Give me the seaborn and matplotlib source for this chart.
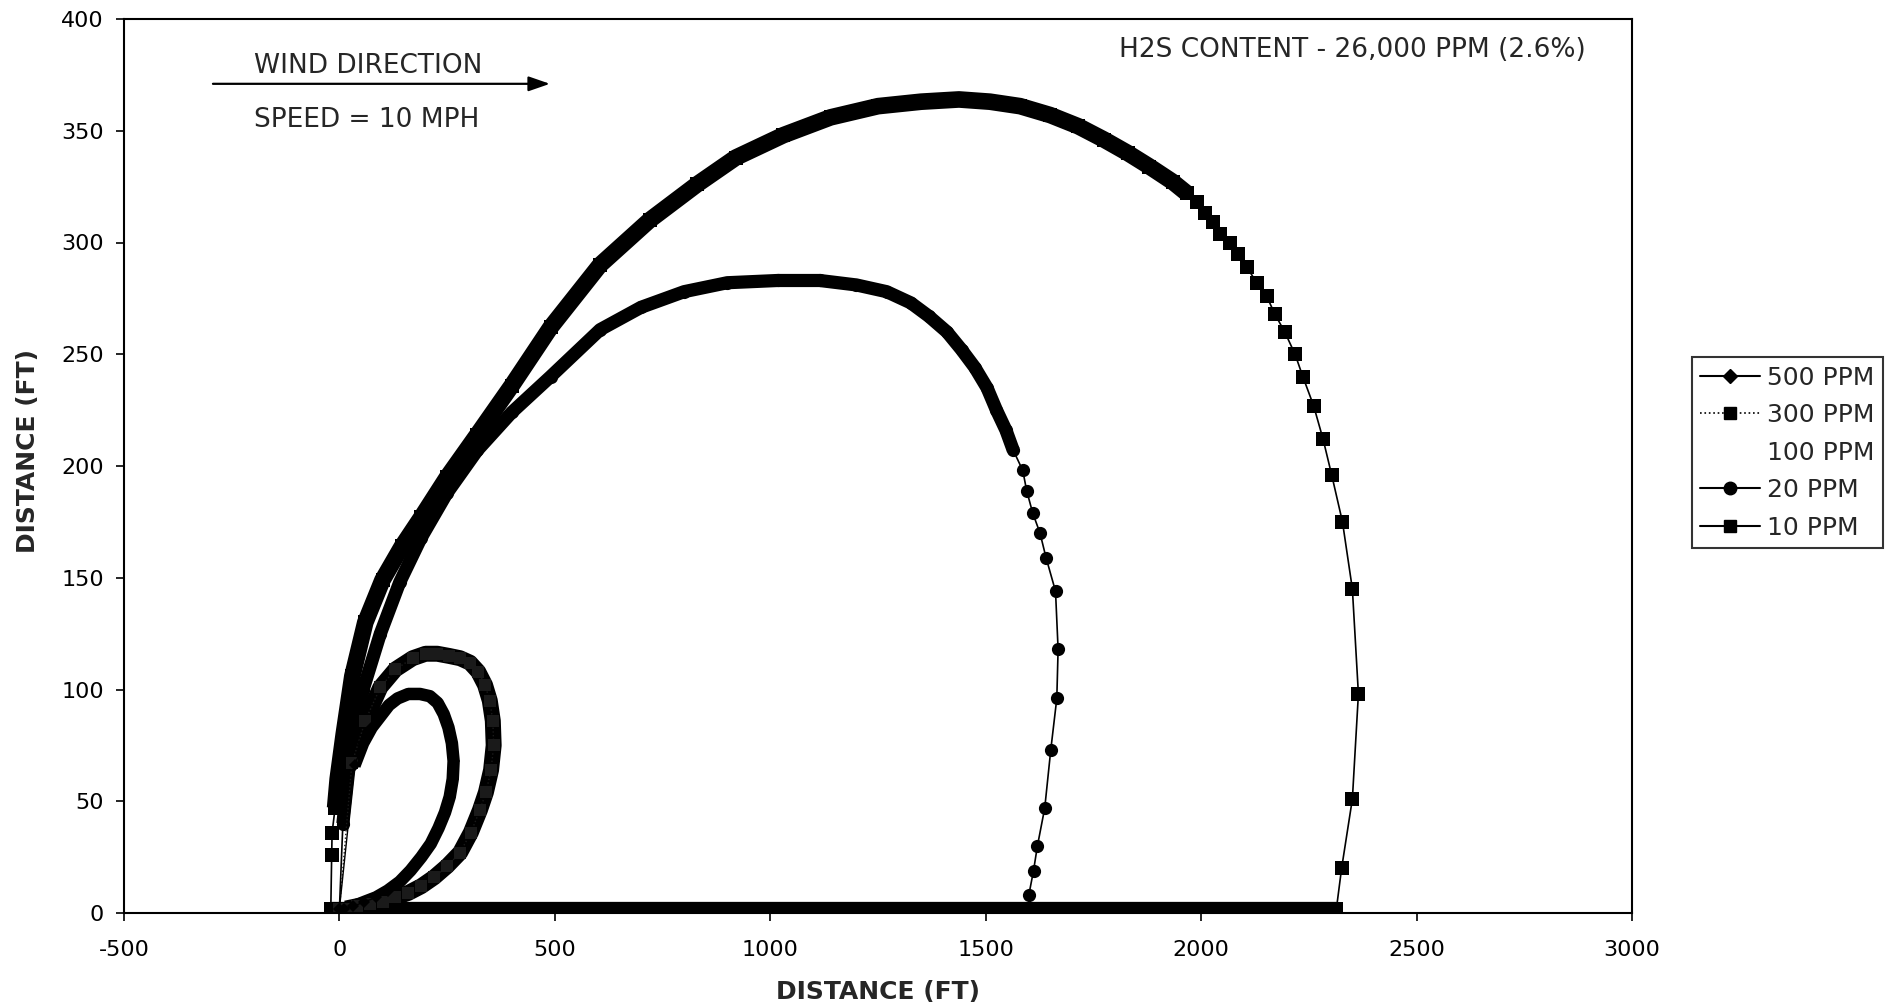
import matplotlib
matplotlib.use("Agg")
import matplotlib.pyplot as plt
from matplotlib.lines import Line2D
import seaborn as sns
import pandas as pd

# ---------------- data ----------------
x_10 = [-20, -18, -17, -10, -4, 10, 30, 60, 100, 145, 190, 250, 320, 400, 490, 605, 720, 830,
        920, 1030, 1140, 1250, 1350, 1438, 1510, 1580, 1650, 1715, 1775, 1830, 1880, 1935, 1967,
        1990, 2009, 2028, 2044, 2067, 2085, 2106, 2129, 2152, 2171, 2194, 2218, 2236, 2261, 2283,
        2303, 2328, 2351, 2365, 2351, 2326, 2314, 2200, 2000, 1800, 1600, 1400, 1200, 1000, 800,
        600, 400, 200, 0, -20]
y_10 = [2, 26, 36, 47, 60, 80, 106, 130, 149, 164, 177, 195, 214, 236, 262, 290, 310, 326,
        338, 348, 356, 361, 363, 364, 363, 361, 357, 352, 346, 340, 334, 327, 322,
        318, 313, 309, 304, 300, 295, 289, 282, 276, 268, 260, 250, 240, 227, 212,
        196, 175, 145, 98, 51, 20, 2, 2, 2, 2, 2, 2, 2, 2, 2,
        2, 2, 2, 2, 2]

x_20 = [0, 8, 25, 55, 95, 140, 190, 250, 320, 400, 490, 605, 700, 800, 900, 1017, 1115, 1200,
        1270, 1326, 1368, 1410, 1444, 1475, 1503, 1525, 1547, 1564, 1586, 1595, 1609, 1626, 1640,
        1662, 1668, 1665, 1651, 1637, 1620, 1611, 1600]
y_20 = [2, 40, 70, 100, 125, 148, 168, 188, 207, 224, 240, 261, 271, 278, 282, 283, 283, 281,
        278, 273, 267, 260, 252, 244, 235, 225, 216, 207, 198, 189, 179, 170, 159,
        144, 118, 96, 73, 47, 30, 19, 8]

x_300 = [0, 29, 60, 95, 130, 170, 200, 227, 255, 280, 303, 322, 338, 349, 356, 358, 352, 340,
         326, 305, 280, 250, 220, 190, 160, 130, 100, 70, 40, 15]
y_300 = [2, 67, 86, 101, 109, 114, 116, 116, 115, 114, 112, 108, 102, 95, 86, 75, 64, 54,
         46, 36, 27, 21, 16, 12, 9, 7, 5, 4, 3, 2]

x_500 = [0, 35, 55, 75, 95, 115, 135, 160, 187, 210, 228, 242, 253, 261, 265, 263, 256, 245,
         230, 212, 190, 165, 140, 112, 85, 58, 32, 10]
y_500 = [2, 66, 76, 83, 88, 93, 96, 98, 98, 97, 94, 89, 83, 76, 68, 60, 52, 45,
         38, 31, 25, 19, 14, 10, 7, 5, 3, 2]

series_labels = ["500 PPM", "300 PPM", "100 PPM", "20 PPM", "10 PPM"]
x_ticks = [-500, 0, 500, 1000, 1500, 2000, 2500, 3000]
y_ticks = [0, 50, 100, 150, 200, 250, 300, 350, 400]

# ---------------- figure ----------------
sns.set_style("ticks")
plt.rcParams["font.family"] = ["DejaVu Sans"]
plt.rcParams["axes.unicode_minus"] = False

fig = plt.figure(figsize=(18.92, 10.07), dpi=100)
ax = fig.add_axes([124 / 1892, (1007 - 913) / 1007, (1632 - 124) / 1892, (913 - 19) / 1007])

df10 = pd.DataFrame({"x": x_10, "y": y_10})
df20 = pd.DataFrame({"x": x_20, "y": y_20})
df300 = pd.DataFrame({"x": x_300, "y": y_300})
df500 = pd.DataFrame({"x": x_500, "y": y_500})

# dense parts of the curves, where the markers overlap into a solid band
band_10a = df10.iloc[3:33]
band_10b = df10.iloc[54:]
band_20 = df20.iloc[1:28]
band_300 = df300.iloc[1:]
band_500 = df500.iloc[1:]
for d, w in [(band_10a, 12), (band_10b, 11), (band_20, 9.5), (band_300, 11.5), (band_500, 9)]:
    sns.lineplot(data=d, x="x", y="y", sort=False, estimator=None, color="black",
                 lw=w, solid_capstyle="butt", legend=False, ax=ax)

sns.lineplot(data=df10, x="x", y="y", sort=False, estimator=None, color="black", lw=1.2,
             marker="s", markersize=10, markeredgewidth=0, legend=False, ax=ax)
sns.lineplot(data=df20, x="x", y="y", sort=False, estimator=None, color="black", lw=1.2,
             marker="o", markersize=9.5, markeredgewidth=0, legend=False, ax=ax)
sns.lineplot(data=df300, x="x", y="y", sort=False, estimator=None, color="#1a1a1a", lw=1.0,
             ls=":", marker="s", markersize=9, markeredgewidth=0, legend=False, ax=ax)
sns.lineplot(data=df500, x="x", y="y", sort=False, estimator=None, color="black", lw=1.0,
             marker="D", markersize=6.5, markeredgewidth=0, legend=False, ax=ax)

ax.set_xlim(-500, 3000)
ax.set_ylim(0, 400)
ax.set_xticks(x_ticks)
ax.set_yticks(y_ticks)
ax.tick_params(axis="both", direction="out", length=5.5, width=1.2, labelsize=16,
               colors="black")
ax.tick_params(axis="x", pad=14)
ax.tick_params(axis="y", pad=9)
for s in ax.spines.values():
    s.set_visible(True)
    s.set_color("black")
    s.set_linewidth(1.5)

ax.set_xlabel("DISTANCE (FT)", fontsize=18, fontweight="bold", labelpad=14)
ax.set_ylabel("DISTANCE (FT)", fontsize=18, fontweight="bold")
ax.yaxis.set_label_coords(-0.056, 0.517)

# annotations
ax.text(-198, 379, "WIND DIRECTION", fontsize=19, ha="left", va="center")
ax.annotate("", xy=(495, 371), xytext=(-300, 371),
            arrowprops=dict(arrowstyle="-|>,head_length=1.3,head_width=0.45", color="black", lw=1.6))
ax.text(-198, 355, "SPEED = 10 MPH", fontsize=19, ha="left", va="center")
ax.text(1810, 386, "H2S CONTENT - 26,000 PPM (2.6%)", fontsize=19, ha="left", va="center")

# legend
handles = [
    Line2D([], [], color="black", lw=1.5, marker="D", markersize=7),
    Line2D([], [], color="black", lw=1.2, ls=":", marker="s", markersize=9),
    Line2D([], [], ls="none", marker=None),
    Line2D([], [], color="black", lw=1.5, marker="o", markersize=9),
    Line2D([], [], color="black", lw=1.5, marker="s", markersize=9),
]
leg = fig.legend(handles, series_labels, loc="center left", bbox_to_anchor=(0.8941, 0.5505),
                 fontsize=18, frameon=True, fancybox=False, edgecolor="black",
                 handlelength=2.4, handletextpad=0.25, labelspacing=0.54, borderpad=0.35,
                 borderaxespad=0)
leg.get_frame().set_linewidth(1.5)

fig.savefig("out.png", dpi=100, facecolor="white")
